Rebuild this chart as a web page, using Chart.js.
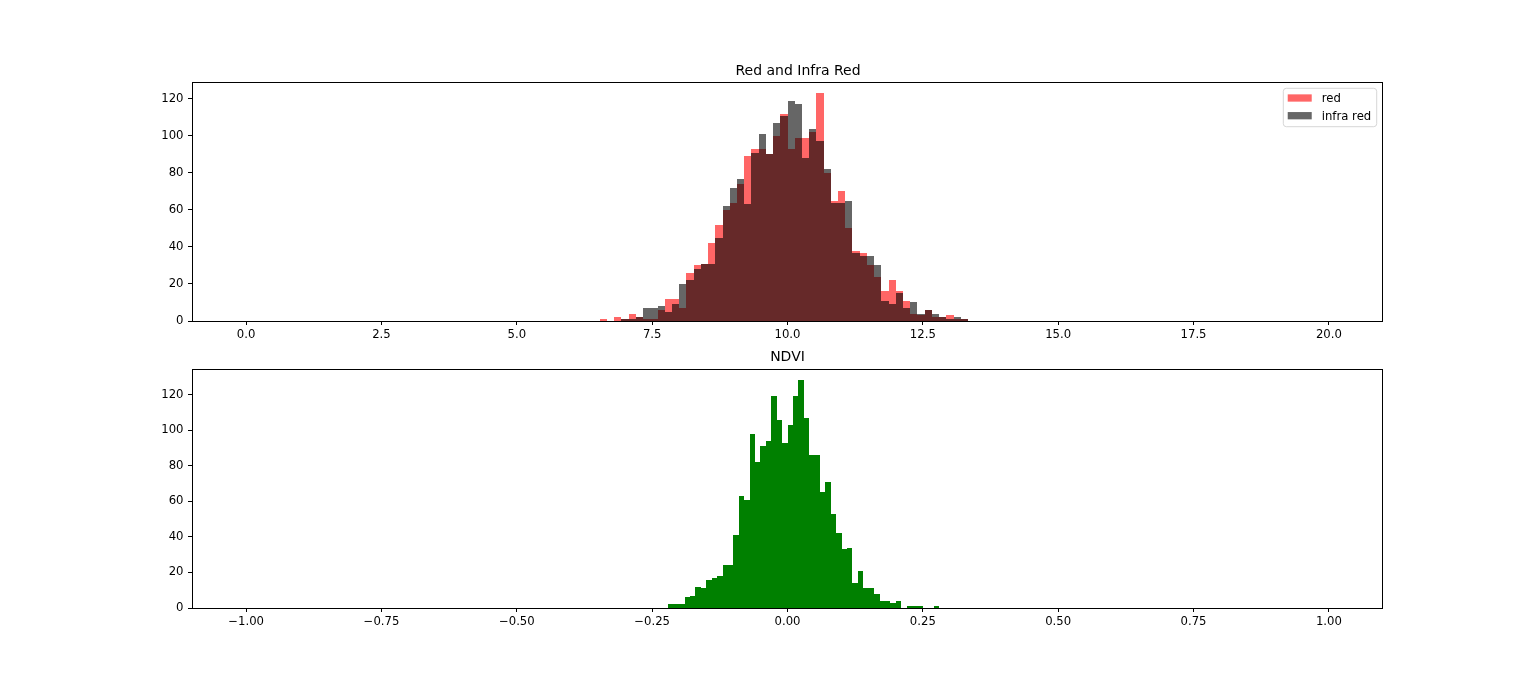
<!DOCTYPE html>
<html>
<head>
<meta charset="utf-8">
<script src="https://cdn.jsdelivr.net/npm/chart.js@4/dist/chart.umd.min.js"></script>
<style>
html, body { margin: 0; padding: 0; background: #fff; overflow: hidden; width: 1536px; height: 683px; }
#bandChart { position: absolute; left: 60px; top: 0; }
#ndviChart { position: absolute; left: 0; top: 345px; }
</style>
</head>
<body>
<canvas id="bandChart" width="1476" height="345"></canvas>
<canvas id="ndviChart" width="1536" height="338"></canvas>
<script>
// ---------------- data ----------------
// Top histogram: 150 bins over [0, 20]; counts listed from bin index 49 to 99
const bandRange = [0, 20];
const bandBinCount = 150;
const bandFirstBin = 49;
const redCounts = [
  1, 0, 2, 1, 4, 2, 1, 1, 6, 12,
  12, 7, 26, 30, 31, 42, 52, 60, 64, 74,
  89, 93, 93, 90, 100, 112, 93, 99, 99, 102,
  123, 80, 65, 70, 50, 38, 37, 30, 24, 16,
  22, 16, 11, 4, 3, 6, 2, 2, 3, 1,
  1
];
const infraRedCounts = [
  0, 0, 0, 1, 1, 2, 7, 7, 8, 5,
  9, 20, 22, 28, 31, 31, 45, 62, 72, 77,
  63, 91, 101, 90, 107, 111, 119, 117, 88, 104,
  97, 82, 64, 64, 65, 37, 35, 35, 30, 11,
  9, 15, 7, 10, 4, 6, 4, 2, 1, 2,
  1
];
// Bottom histogram: 200 bins over [-1, 1]; counts listed from bin index 78 to 127
const ndviRange = [-1, 1];
const ndviBinCount = 200;
const ndviFirstBin = 78;
const ndviCounts = [
  2, 2, 2, 6, 7, 12, 11, 16, 17, 18,
  24, 24, 41, 63, 61, 98, 82, 91, 94, 119,
  106, 93, 103, 119, 128, 107, 86, 86, 65, 71,
  53, 42, 33, 34, 14, 21, 11, 11, 8, 4,
  4, 3, 4, 0, 1, 1, 1, 0, 0, 1
];
const bandXTicks = [0, 2.5, 5, 7.5, 10, 12.5, 15, 17.5, 20];
const ndviXTicks = [-1, -0.75, -0.5, -0.25, 0, 0.25, 0.5, 0.75, 1];
const countTicks = [0, 20, 40, 60, 80, 100, 120];
const bandLabels = ['red', 'infra red'];
const ndviLabel = 'NDVI';

// ---------------- helpers ----------------
function binCenters(range, count, first, n) {
  const w = (range[1] - range[0]) / count;
  const out = [];
  for (let i = 0; i < n; i++) out.push(range[0] + (first + i + 0.5) * w);
  return out;
}
const bandCenters = binCenters(bandRange, bandBinCount, bandFirstBin, redCounts.length);
const ndviCenters = binCenters(ndviRange, ndviBinCount, ndviFirstBin, ndviCounts.length);
const toPoints = (xs, ys) => xs.map((x, i) => ({ x: x, y: ys[i] }));

Chart.defaults.font.family = '"DejaVu Sans", sans-serif';
Chart.defaults.color = '#000';

const TICK_FONT = { size: 11.67 };

// snap bar edges to whole pixels (like matplotlib's rectangle snapping)
const snapPlugin = {
  id: 'snapBars',
  beforeDatasetsDraw(chart) {
    chart.getSortedVisibleDatasetMetas().forEach(meta => {
      meta.data.forEach(el => {
        const l = Math.round(el.x - el.width / 2);
        const r = Math.round(el.x + el.width / 2);
        el.x = (l + r) / 2;
        el.width = r - l;
        el.y = Math.round(el.y);
        el.base = Math.round(el.base);
      });
    });
  }
};

const framePlugin = {
  id: 'frame',
  afterDatasetsDraw(chart) {
    const { ctx, chartArea: a } = chart;
    const l = Math.round(a.left), t = Math.round(a.top), r = Math.round(a.right), b = Math.round(a.bottom);
    ctx.save();
    ctx.strokeStyle = '#000';
    ctx.lineWidth = 1;
    ctx.strokeRect(l + 0.5, t + 0.5, r - l - 1, b - t);
    ctx.restore();
  }
};

const boxLegendPlugin = {
  id: 'boxLegend',
  afterDatasetsDraw(chart, args, opts) {
    if (!opts || !opts.display) return;
    const { ctx, chartArea: a } = chart;
    const ds = chart.data.datasets;
    const fs = 11.67;
    ctx.save();
    ctx.font = fs + 'px "DejaVu Sans"';
    const textW = Math.max(...ds.map(d => ctx.measureText(d.label).width));
    const padL = 4.4, patchW = 24, patchH = 7.3, gap = 10, padR = 5.5, rowH = 17.7;
    const w = padL + patchW + gap + textW + padR;
    const h = 38.4;
    const right = a.right - 6.3, top = a.top + 6.3, left = right - w;
    const rad = 3;
    ctx.beginPath();
    ctx.moveTo(left + rad, top);
    ctx.lineTo(right - rad, top);
    ctx.quadraticCurveTo(right, top, right, top + rad);
    ctx.lineTo(right, top + h - rad);
    ctx.quadraticCurveTo(right, top + h, right - rad, top + h);
    ctx.lineTo(left + rad, top + h);
    ctx.quadraticCurveTo(left, top + h, left, top + h - rad);
    ctx.lineTo(left, top + rad);
    ctx.quadraticCurveTo(left, top, left + rad, top);
    ctx.closePath();
    ctx.fillStyle = 'rgba(255,255,255,0.8)';
    ctx.fill();
    ctx.strokeStyle = 'rgba(204,204,204,0.8)';
    ctx.lineWidth = 1;
    ctx.stroke();
    ds.forEach((d, i) => {
      const cy = top + 9.7 + i * rowH;
      ctx.fillStyle = d.backgroundColor;
      ctx.fillRect(left + padL, cy - patchH / 2, patchW, patchH);
      ctx.fillStyle = '#000';
      ctx.textBaseline = 'middle';
      ctx.textAlign = 'left';
      ctx.fillText(d.label, left + padL + patchW + gap, cy + 0.8);
    });
    ctx.restore();
  }
};

function tickGrid() {
  return { display: true, offset: false, drawOnChartArea: false, drawTicks: true, tickLength: 4, color: '#000', lineWidth: 1 };
}
function setTicks(values) {
  return (scale) => { scale.ticks = values.map(v => ({ value: v })); };
}

// ---------------- top chart ----------------
const bandMax = Math.max(...redCounts, ...infraRedCounts) * 1.05;
new Chart(document.getElementById('bandChart'), {
  type: 'bar',
  data: {
    datasets: [
      { label: bandLabels[0], data: toPoints(bandCenters, redCounts), backgroundColor: 'rgba(255,0,0,0.6)', order: 1, inflateAmount: 0 },
      { label: bandLabels[1], data: toPoints(bandCenters, infraRedCounts), backgroundColor: 'rgba(0,0,0,0.6)', order: 0, inflateAmount: 0 }
    ]
  },
  options: {
    responsive: false,
    animation: false,
    events: [],
    datasets: { bar: { grouped: false, barPercentage: 1, categoryPercentage: 1, borderWidth: 0 } },
    layout: { padding: 0 },
    plugins: {
      legend: { display: false },
      tooltip: { enabled: false },
      title: { display: true, text: 'Red and Infra Red', fullSize: true, color: '#000', font: { size: 14, weight: 'normal' }, padding: { top: 62.6, bottom: 2.6 } },
      boxLegend: { display: true }
    },
    scales: {
      x: {
        type: 'linear', min: -1, max: 21, offset: false,
        grid: tickGrid(), border: { display: false },
        ticks: { font: TICK_FONT, color: '#000', padding: 3.3, maxRotation: 0, autoSkip: false, callback: v => Number(v).toFixed(1) },
        afterBuildTicks: setTicks(bandXTicks),
        afterFit: s => { s.height = 24; }
      },
      y: {
        type: 'linear', min: 0, max: bandMax,
        grid: tickGrid(), border: { display: false },
        ticks: { font: TICK_FONT, color: '#000', padding: 4.5, autoSkip: false, callback: v => String(v) },
        afterBuildTicks: setTicks(countTicks),
        afterFit: s => { s.width = 132; }
      },
      yR: {
        type: 'linear', position: 'right', display: true,
        grid: { display: false }, border: { display: false }, ticks: { display: false },
        afterFit: s => { s.width = 153; }
      }
    }
  },
  plugins: [snapPlugin, framePlugin, boxLegendPlugin]
});

// ---------------- bottom chart ----------------
const ndviMax = Math.max(...ndviCounts) * 1.05;
new Chart(document.getElementById('ndviChart'), {
  type: 'bar',
  data: {
    datasets: [
      { label: ndviLabel, data: toPoints(ndviCenters, ndviCounts), backgroundColor: '#008000', inflateAmount: 0 }
    ]
  },
  options: {
    responsive: false,
    animation: false,
    events: [],
    datasets: { bar: { grouped: false, barPercentage: 1, categoryPercentage: 1, borderWidth: 0 } },
    layout: { padding: { left: 0, right: 153, top: 0, bottom: 0 } },
    plugins: {
      legend: { display: false },
      tooltip: { enabled: false },
      title: { display: true, text: 'NDVI', fullSize: false, color: '#000', font: { size: 14, weight: 'normal' }, padding: { top: 4.4, bottom: 2.8 } }
    },
    scales: {
      x: {
        type: 'linear', min: -1.1, max: 1.1, offset: false,
        grid: tickGrid(), border: { display: false },
        ticks: { font: TICK_FONT, color: '#000', padding: 3.3, maxRotation: 0, autoSkip: false, callback: v => Number(v).toFixed(2).replace('-', '\u2212') },
        afterBuildTicks: setTicks(ndviXTicks),
        afterFit: s => { s.height = 75; }
      },
      y: {
        type: 'linear', min: 0, max: ndviMax,
        grid: tickGrid(), border: { display: false },
        ticks: { font: TICK_FONT, color: '#000', padding: 4.5, autoSkip: false, callback: v => String(v) },
        afterBuildTicks: setTicks(countTicks),
        afterFit: s => { s.width = 192; }
      }
    }
  },
  plugins: [snapPlugin, framePlugin]
});
</script>
</body>
</html>
